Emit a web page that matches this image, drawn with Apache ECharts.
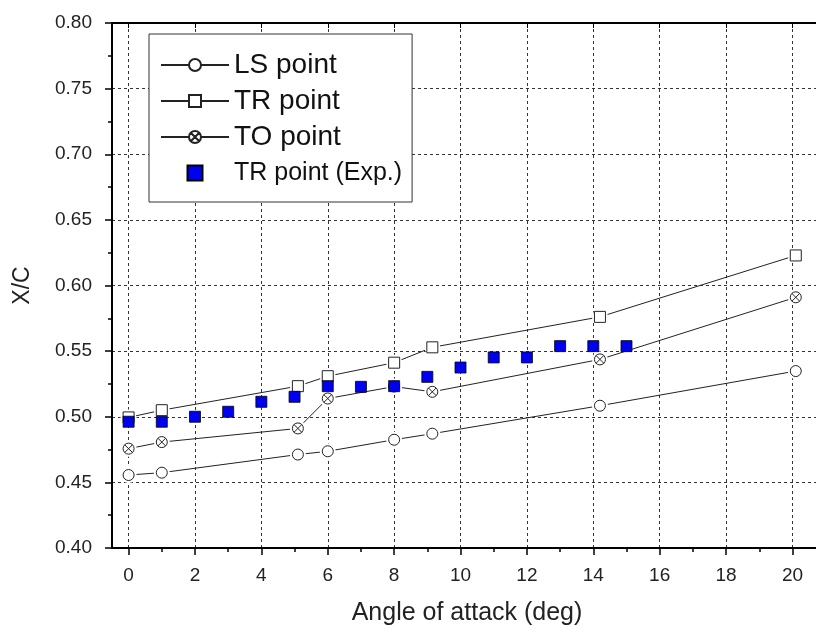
<!DOCTYPE html>
<html>
<head>
<meta charset="utf-8">
<script src="https://cdn.jsdelivr.net/npm/echarts@6/dist/echarts.min.js"></script>
<style>
html,body{margin:0;padding:0;background:#fff;}
#c{width:816px;height:629px;}
</style>
</head>
<body>
<div id="c"></div>
<script>
// ---- data ----
const simAngle = [0, 1, 5.1, 6, 8, 9.15, 14.2, 20.1];
const lsPoint  = [0.4556, 0.4574, 0.4712, 0.4737, 0.4825, 0.4871, 0.5084, 0.5348];
const trPoint  = [0.4995, 0.5050, 0.5233, 0.5309, 0.5412, 0.5529, 0.5761, 0.6229];
const toPoint  = [0.4757, 0.4807, 0.4911, 0.5139, 0.5230, 0.5190, 0.5437, 0.5910];
const expAngle = [0, 1, 2, 3, 4, 5, 6, 7, 8, 9, 10, 11, 12, 13, 14, 15];
const expTr    = [0.4962, 0.4962, 0.5000, 0.5038, 0.5114, 0.5152, 0.5233, 0.5228, 0.5233, 0.5304, 0.5375, 0.5452, 0.5452, 0.5538, 0.5538, 0.5538];
const xMajorTicks = [0, 2, 4, 6, 8, 10, 12, 14, 16, 18, 20];
const xMinorTicks = [1, 3, 5, 7, 9, 11, 13, 15, 17, 19];
const seriesNames = ['LS point', 'TR point', 'TO point', 'TR point (Exp.)'];

const pairs = (xs, ys) => xs.map((x, i) => [x, ys[i]]);
const FONT = 'Liberation Sans, Arial, sans-serif';
const TO_SYMBOL = 'path://M12,2A10,10,0,1,1,12,22A10,10,0,1,1,12,2ZM4.93,4.93L19.07,19.07M19.07,4.93L4.93,19.07';
const symbols = ['circle', 'rect', TO_SYMBOL];
const simData = [lsPoint, trPoint, toPoint];

const series = [];
simData.forEach((vals, k) => {
  const d = pairs(simAngle, vals);
  series.push({
    name: seriesNames[k], type: 'line', data: d, symbol: symbols[k], symbolSize: 11,
    showSymbol: false, silent: true, z: 2,
    lineStyle: { color: '#222', width: 1 },
    itemStyle: { color: '#fff', borderColor: '#222', borderWidth: 1, opacity: 1 }
  });
  series.push({
    name: seriesNames[k] + ' halo', type: 'scatter', data: d, symbol: 'circle', symbolSize: 16,
    silent: true, z: 3, itemStyle: { color: '#fff', opacity: 1 }
  });
  series.push({
    name: seriesNames[k] + ' marker', type: 'scatter', data: d, symbol: symbols[k], symbolSize: 11,
    silent: true, z: 4, itemStyle: { color: '#fff', borderColor: '#222', borderWidth: 1, opacity: 1 }
  });
});
series.push({
  name: seriesNames[3], type: 'scatter', data: pairs(expAngle, expTr), symbol: 'rect', symbolSize: 11,
  silent: true, z: 5, itemStyle: { color: '#0000f0', borderColor: '#000', borderWidth: 0.8, opacity: 1 }
});

const gridDash = { type: [3, 3], color: '#333', width: 1 };
const option = {
  animation: false,
  backgroundColor: '#fff',
  grid: { left: 112, top: 23, width: 710, bottom: 81, containLabel: false, outerBoundsMode: 'none' },
  legend: {
    orient: 'vertical', left: 149, top: 34, padding: [16, 10, 14, 11],
    itemWidth: 68, itemHeight: 15, itemGap: 6, selectedMode: false,
    borderColor: '#333', borderWidth: 1, backgroundColor: '#fff',
    textStyle: { fontFamily: FONT, fontSize: 28, color: '#111', lineHeight: 30 },
    data: [
      { name: seriesNames[0] },
      { name: seriesNames[1] },
      { name: seriesNames[2] },
      { name: seriesNames[3], icon: 'path://M0,0H10V10H0Z', textStyle: { fontSize: 25 } }
    ]
  },
  xAxis: [
    {
      type: 'value', min: -0.5, max: 20.89, interval: 2, position: 'bottom',
      axisLine: { show: true, onZero: false, lineStyle: { color: '#000', width: 2 } },
      axisTick: { show: true, customValues: xMajorTicks, length: 7, lineStyle: { color: '#000', width: 1.5 } },
      axisLabel: { customValues: xMajorTicks, margin: 18, fontSize: 19, fontFamily: FONT, color: '#222' },
      splitLine: { show: true, lineStyle: gridDash },
      name: 'Angle of attack (deg)', nameLocation: 'middle', nameGap: 53,
      nameTextStyle: { fontSize: 25, fontFamily: FONT, color: '#222' }
    },
    {
      type: 'value', min: -0.5, max: 20.89, position: 'bottom',
      axisLine: { show: false, onZero: false },
      axisTick: { show: true, customValues: xMinorTicks, length: 4, lineStyle: { color: '#000', width: 1.5 } },
      axisLabel: { show: false },
      splitLine: { show: false }
    },
    {
      type: 'value', min: -0.5, max: 20.89, position: 'top',
      axisLine: { show: true, onZero: false, lineStyle: { color: '#000', width: 2 } },
      axisTick: { show: true, inside: true, customValues: xMajorTicks, length: 5, lineStyle: { color: '#000' } },
      axisLabel: { show: false },
      splitLine: { show: false }
    }
  ],
  yAxis: {
    type: 'value', min: 0.4, max: 0.8, interval: 0.05,
    axisLine: { show: true, onZero: false, lineStyle: { color: '#000', width: 2 } },
    axisTick: { show: true, length: 7, lineStyle: { color: '#000', width: 1.5 } },
    minorTick: { show: true, splitNumber: 2, length: 4, lineStyle: { color: '#000', width: 1.5 } },
    axisLabel: { formatter: v => v.toFixed(2), margin: 20, fontSize: 19, fontFamily: FONT, color: '#222' },
    splitLine: { show: true, lineStyle: gridDash },
    name: 'X/C', nameLocation: 'middle', nameGap: 78,
    nameTextStyle: { fontSize: 23, fontFamily: FONT, color: '#222' }
  },
  series: series
};
const chart = echarts.init(document.getElementById('c'), null, { renderer: 'canvas' });
chart.setOption(option);
</script>
</body>
</html>
